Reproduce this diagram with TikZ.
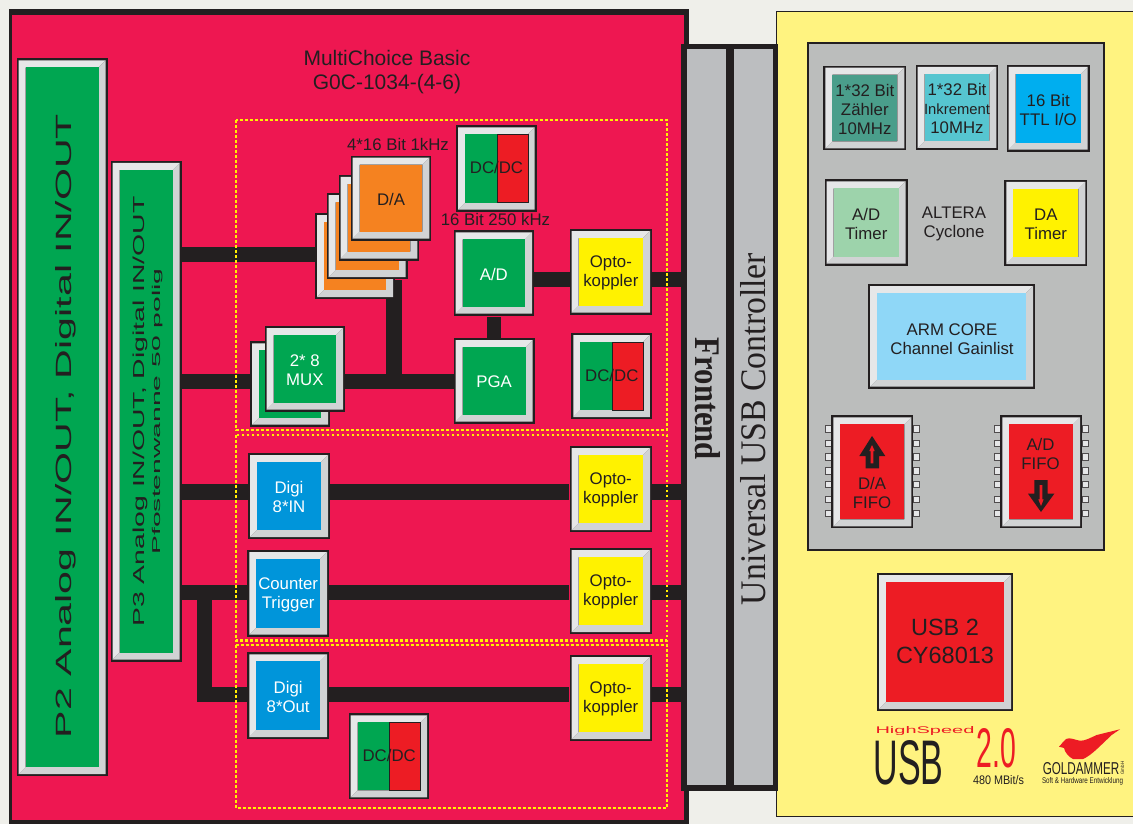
\documentclass[tikz,border=0pt]{standalone}
\usepackage{graphicx}
\usepackage{fontspec}
\setmainfont{Liberation Sans}
\newfontfamily\serifface{Liberation Serif}
\pgfdeclarelayer{backl}
\pgfdeclarelayer{busl}
\pgfdeclarelayer{topl}
\pgfsetlayers{backl,busl,main,topl}
\definecolor{pagebg}{HTML}{EFEFEA}
\definecolor{ink}{HTML}{231F20}
\definecolor{boardred}{HTML}{EE1751}
\definecolor{chipgreen}{HTML}{00A651}
\definecolor{chipred}{HTML}{ED1C24}
\definecolor{chiporange}{HTML}{F58220}
\definecolor{chipyellow}{HTML}{FFF200}
\definecolor{chipblue}{HTML}{0095DA}
\definecolor{bevlight}{HTML}{E6E7E8}
\definecolor{bevdark}{HTML}{D1D3D4}
\definecolor{panelyellow}{HTML}{FFF380}
\definecolor{panelgray}{HTML}{BBBDBC}
\definecolor{bargray}{HTML}{BCBEC0}
\definecolor{cteal}{HTML}{4A9E8B}
\definecolor{ccyan}{HTML}{56C5D0}
\definecolor{csky}{HTML}{00AEEF}
\definecolor{cmint}{HTML}{9DD3AB}
\definecolor{carm}{HTML}{8FD7F7}
\tikzset{
  busline/.style={draw=ink,line width=15.3pt,line cap=butt},
  dotbox/.style={draw=chipyellow,line width=2.9pt,dash pattern=on 2.9pt off 2.1pt},
  lbl/.style={text=ink,inner sep=0pt,align=center,font=\fontsize{16.8}{19}\selectfont},
  rawtext/.style={text=ink,inner sep=0pt},
}
% name, x0,y0,x1,y1, colour, text colour, text
\newcommand\chip[8]{%
  \fill[ink] (#2,#3) rectangle (#4,#5);
  \fill[bevlight] (#2+2,#3+2) -- (#4-2,#3+2) -- (#4-9,#3+9) -- (#2+9,#3+9) -- (#2+9,#5-9) -- (#2+2,#5-2) -- cycle;
  \fill[bevdark] (#4-2,#3+2) -- (#4-2,#5-2) -- (#2+2,#5-2) -- (#2+9,#5-9) -- (#4-9,#5-9) -- (#4-9,#3+9) -- cycle;
  \fill[#6] (#2+9,#3+9) rectangle (#4-9,#5-9);
  \node[lbl,text=#7,minimum width={(#4-#2)*1pt},minimum height={(#5-#3)*1pt}] (#1) at ({(#2+#4)/2},{(#3+#5)/2+1.2}) {#8};
}
% name, x0, y0
\newcommand\dcdc[3]{%
  \chip{#1}{#2}{#3}{#2+80.5}{#3+86}{chipgreen}{ink}{}
  \filldraw[fill=chipred,draw=ink,line width=0.8pt] (#2+41,#3+9) rectangle (#2+72,#3+77);
  \node[lbl] (#1txt) at (#2+40.5,#3+42) {DC/DC};
}
% x of left pins, x of right pins
\newcommand\pins[2]{%
  \foreach \py in {429,443.3,457,470.7,484.3,499.3,513.3}{
    \filldraw[fill=bevlight,draw=ink!80,line width=0.8pt] (#1,\py-3.3) rectangle (#1+6,\py+3.3);
    \filldraw[fill=bevlight,draw=ink!80,line width=0.8pt] (#2,\py-3.3) rectangle (#2+6,\py+3.3);
  }
}
\begin{document}
\begin{tikzpicture}[x=1pt,y=-1pt]
\useasboundingbox (0,0) rectangle (1133,824);
\begin{pgfonlayer}{backl}
  \fill[pagebg] (0,0) rectangle (1133,824);
  \fill[ink] (9,9) rectangle (688.5,824);
  \fill[boardred] (12,15) rectangle (683.5,820);
  \filldraw[fill=panelyellow,draw=ink,line width=0.8pt] (776.4,11.4) rectangle (1140,816.6);
\end{pgfonlayer}

% panel + bars
\node[draw=ink,fill=panelgray,line width=2.4pt,minimum width=296pt,minimum height=506.5pt,inner sep=0pt] (panel) at (956,296.5) {};
\fill[ink] (681.3,44) rectangle (778.3,791);
\node[fill=bargray,minimum width=39.3pt,minimum height=735.5pt,inner sep=0pt] (front) at (706.35,417.25) {};
\node[fill=bargray,minimum width=39.3pt,minimum height=735.5pt,inner sep=0pt] (usbc) at (753.65,417.25) {};
\node[rawtext,rotate=-90] (fronttxt) at (707.5,399) {\resizebox{122pt}{25pt}{\serifface\bfseries Frontend}};
\node[rawtext,rotate=90] (usbtxt) at (753.5,429) {\resizebox{352pt}{25pt}{\serifface Universal USB Controller}};

% title
\node[rawtext,align=center,font=\fontsize{21}{24}\selectfont] (title) at (387,72) {MultiChoice Basic\\G0C-1034-(4-6)};

% connectors' end chips
\chip{ptwo}{16.5}{58.5}{107.5}{776}{chipgreen}{ink}{}
\chip{pthree}{110.5}{161}{181.5}{661.5}{chipgreen}{ink}{}
\node[rawtext,rotate=90,anchor=base] (ptwotxt) at (71,426) {\resizebox{624pt}{16pt}{P2 Analog IN/OUT, Digital IN/OUT}};
\node[rawtext,rotate=90,anchor=base] (pthreetxt) at (144.5,411.5) {\resizebox{430pt}{11.5pt}{P3 Analog IN/OUT, Digital IN/OUT}};
\node[rawtext,rotate=90,anchor=base] (pthreetxtb) at (160,411.5) {\resizebox{286pt}{8.2pt}{Pfostenwanne 50 polig}};

% D/A stack
\chip{dad}{315}{213}{395}{299}{chiporange}{ink}{}
\chip{dac}{326.7}{193}{407.7}{279}{chiporange}{ink}{}
\chip{dab}{338.7}{175}{419.3}{260.7}{chiporange}{ink}{}
\chip{daa}{350.7}{155.7}{431.3}{240.7}{chiporange}{ink}{D/A}
\node[lbl] (dalabel) at (398,144) {4*16 Bit 1kHz};
\dcdc{dcone}{456}{125.5}
\node[lbl] (adlabel) at (495.5,219) {16 Bit 250 kHz};
\chip{ad}{453.7}{230.3}{534}{315.7}{chipgreen}{white}{A/D}
\chip{pga}{453.7}{338}{534.7}{423.7}{chipgreen}{white}{PGA}
\chip{optoa}{569.7}{229}{652}{314.7}{chipyellow}{ink}{Opto-\\koppler}
\dcdc{dctwo}{571.3}{333}
\chip{muxb}{250}{341.3}{330}{426.7}{chipgreen}{white}{}
\chip{muxa}{264.7}{326}{345}{411.7}{chipgreen}{white}{2* 8\\MUX}
\chip{digiin}{248}{453}{330}{539}{chipblue}{white}{Digi\\8*IN}
\chip{optob}{569.5}{446}{652}{532}{chipyellow}{ink}{Opto-\\koppler}
\chip{counter}{247.3}{550}{329}{636.7}{chipblue}{white}{Counter\\Trigger}
\chip{optoc}{569.5}{548}{652}{634}{chipyellow}{ink}{Opto-\\koppler}
\chip{digiout}{247.3}{652.3}{329}{739}{chipblue}{white}{Digi\\8*Out}
\chip{optod}{569.5}{655}{652}{741}{chipyellow}{ink}{Opto-\\koppler}
\dcdc{dcthree}{348.7}{713.3}

% right side
\chip{zaehler}{823.3}{65.7}{906.3}{150.3}{cteal}{ink}{1*32 Bit\\Zähler\\10MHz}
\chip{inkr}{915.7}{65}{998.3}{150}{ccyan}{ink}{1*32 Bit\\{\fontsize{14.8}{19}\selectfont Inkrement}\\10MHz}
\chip{ttl}{1006.7}{65}{1089.7}{151.7}{csky}{ink}{16 Bit\\TTL I/O}
\chip{adtimer}{824.7}{179.3}{907.7}{265.7}{cmint}{ink}{A/D\\Timer}
\chip{datimer}{1004.3}{180}{1087.3}{266}{chipyellow}{ink}{DA\\Timer}
\node[lbl] (altera) at (954,224) {ALTERA\\Cyclone};
\chip{arm}{868}{284}{1035}{388.5}{carm}{ink}{}
\node[lbl] (armtxt) at (952,339) {ARM CORE\\Channel Gainlist};
\pins{825.3}{913.2}
\pins{994.3}{1082}
\chip{dafifo}{831.3}{415.3}{913.3}{528.3}{chipred}{ink}{}
\chip{adfifo}{1000.3}{415.3}{1082}{528.3}{chipred}{ink}{}
\fill[ink] (872,436) -- (885.3,456) -- (879,456) -- (879,468.3) -- (865.7,468.3) -- (865.7,456) -- (859.3,456) -- cycle;
\fill[chipred] (872,445) -- (874.7,451) -- (873.3,451) -- (873.3,463.3) -- (870.7,463.3) -- (870.7,451) -- (869.3,451) -- cycle;
\fill[ink] (1041,512) -- (1054.3,493.7) -- (1047.7,493.7) -- (1047.7,480) -- (1034.3,480) -- (1034.3,493.7) -- (1028,493.7) -- cycle;
\fill[chipred] (1041,506) -- (1043.7,499.3) -- (1042.3,499.3) -- (1042.3,485) -- (1039.7,485) -- (1039.7,499.3) -- (1038.3,499.3) -- cycle;
\node[lbl] (dafifotxt) at (872,492.5) {D/A\\FIFO};
\node[lbl] (adfifotxt) at (1040.5,453.5) {A/D\\FIFO};
\chip{usbchip}{877}{573}{1013}{711}{chipred}{ink}{}
\node[lbl,font=\fontsize{23.5}{28}\selectfont] (usbchiptxt) at (945,641) {USB 2\\CY68013};

% logos
\node[rawtext,text=chipred,anchor=base] (hs) at (925,733.8) {\resizebox{99pt}{7pt}{HighSpeed}};
\node[rawtext,anchor=base] (usblogo) at (908.5,784) {\resizebox{70pt}{44pt}{USB}};
\node[rawtext,text=chipred,anchor=base] (twoo) at (996.5,767) {\resizebox{39.5pt}{39pt}{2.0}};
\node[rawtext,anchor=base] (rate) at (998.5,784) {\resizebox{51pt}{9pt}{480 MBit/s}};
\fill[chipred] (1120,729.3) -- (1096.7,735) .. controls (1090,738) and (1085,741) .. (1080,740.7) .. controls (1075,740) and (1070,737) .. (1066,739) .. controls (1063,741) and (1062,744) .. (1059,746.7) -- (1064,748) .. controls (1065,753) and (1069,757) .. (1073,759) -- (1083,759) .. controls (1090,756) and (1097,749) .. (1103,743.3) -- (1111.7,735) -- cycle;
\node[rawtext,anchor=base] (gold) at (1081,774) {\resizebox{76.5pt}{12pt}{GOLDAMMER}};
\node[rawtext,rotate=90,anchor=base] (gmbh) at (1124,768) {\resizebox{13pt}{3.5pt}{GmbH}};
\node[rawtext,anchor=base] (soft) at (1082.5,783) {\resizebox{81pt}{6pt}{Soft \& Hardware Entwicklung}};

% connectors
\begin{pgfonlayer}{busl}
  \draw[busline] (pthree.east |- 0,254.3) -- (dad.west |- 0,254.3);
  \draw[busline] (pthree.east |- 0,381.6) -- (pga.west |- 0,381.6);
  \draw[busline] (394,0 |- dac.south) -- (394,381.6);
  \draw[busline,line width=13.5pt] (ad.south) -- (ad.south |- pga.north);
  \draw[busline] (ad.east |- 0,279.6) -- (optoa.west |- 0,279.6);
  \draw[busline] (optoa.east |- 0,279.6) -- (front.west |- 0,279.6);
  \draw[busline] (pthree.east |- 0,492) -- (digiin.west |- 0,492);
  \draw[busline] (digiin.east |- 0,492) -- (optob.west |- 0,492);
  \draw[busline] (optob.east |- 0,492) -- (front.west |- 0,492);
  \draw[busline] (pthree.east |- 0,592.5) -- (counter.west |- 0,592.5);
  \draw[busline] (counter.east |- 0,592.5) -- (optoc.west |- 0,592.5);
  \draw[busline] (optoc.east |- 0,592.5) -- (front.west |- 0,592.5);
  \draw[busline] (204.8,585) -- (204.8,694.7) -- (digiout.west |- 0,694.7);
  \draw[busline] (digiout.east |- 0,694.7) -- (optod.west |- 0,694.7);
  \draw[busline] (optod.east |- 0,694.7) -- (front.west |- 0,694.7);
\end{pgfonlayer}

\begin{pgfonlayer}{topl}
  \draw[dotbox] (236,120) rectangle (667,430);
  \draw[dotbox] (236,435) rectangle (667,640.7);
  \draw[dotbox] (236,645) rectangle (667,808);
\end{pgfonlayer}
\end{tikzpicture}
\end{document}
